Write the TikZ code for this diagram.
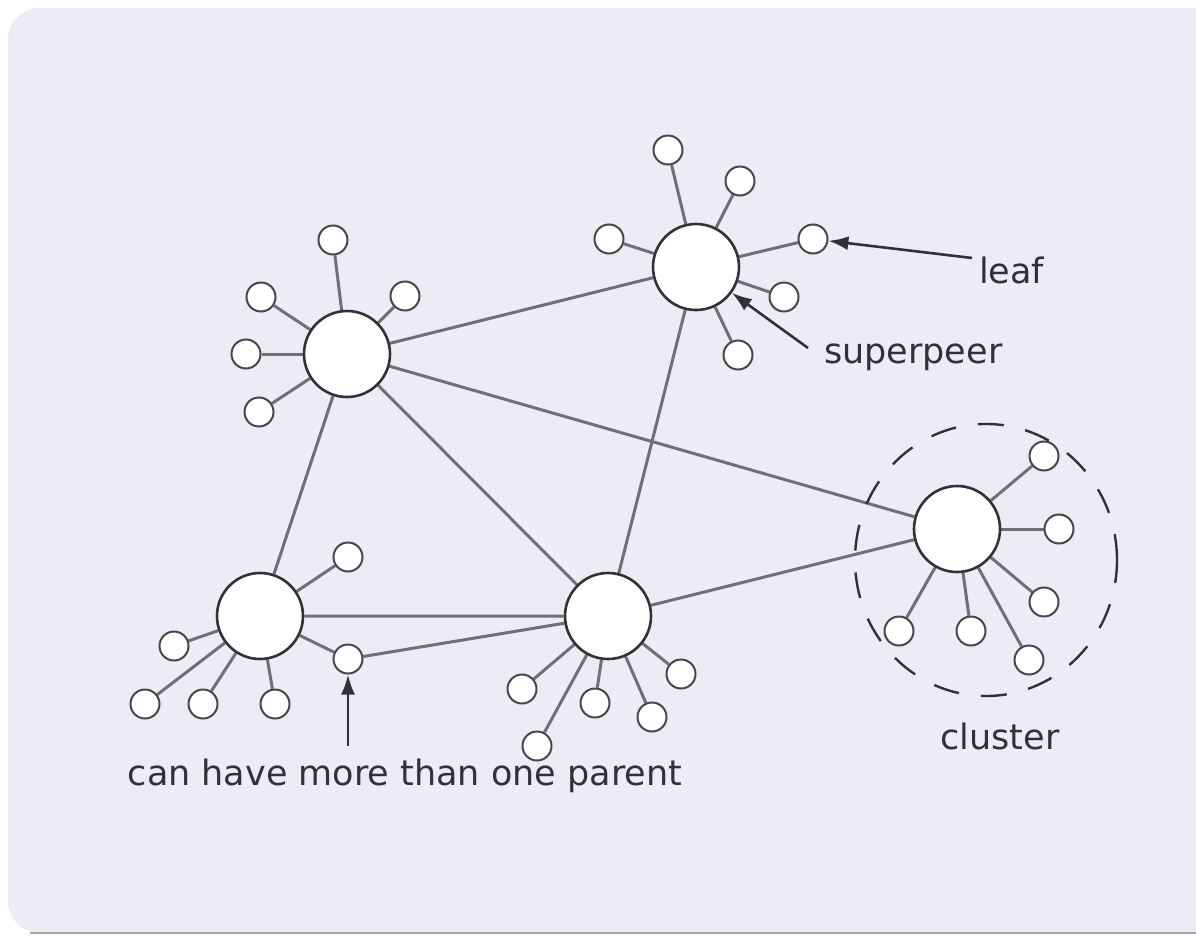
\documentclass[tikz,border=0pt]{standalone}
\usepackage{fontspec}
\setmainfont{DejaVu Sans}
\usetikzlibrary{arrows.meta}
\definecolor{panel}{RGB}{236,236,245}
\definecolor{edgegray}{RGB}{112,112,116}
\definecolor{ink}{RGB}{50,50,54}
\pgfdeclarelayer{panellayer}
\pgfdeclarelayer{edgelayer}
\pgfsetlayers{panellayer,edgelayer,main}
\begin{document}
\begin{tikzpicture}[x=1pt,y=-1pt,
  super/.style={circle,draw=ink,line width=2.6pt,fill=white,minimum size=86pt,inner sep=0pt},
  leaf/.style={circle,draw=ink!90,line width=2pt,fill=white,minimum size=29pt,inner sep=0pt},
  link/.style={draw=edgegray,line width=3pt},
  label/.style={text=ink,font=\fontsize{35}{40}\selectfont,inner sep=0pt},
  pointer/.style={draw=ink,line width=2.6pt,-{Latex[length=20pt,width=14pt]}}]
\useasboundingbox (0,0) rectangle (1196,936);
% background panel
\begin{pgfonlayer}{panellayer}
\fill[white] (0,0) rectangle (1196,936);
\fill[panel,rounded corners=32pt] (8,8) rectangle (1230,933);
\draw[gray!70,line width=2pt] (30,933) -- (1196,933);
\end{pgfonlayer}

% superpeers
\node[super] (A) at (347,354) {};
\node[super] (B) at (696,267) {};
\node[super] (C) at (260,616) {};
\node[super] (D) at (608,616) {};
\node[super] (E) at (957,529) {};

% cluster boundary
\draw[ink,line width=2.4pt,dash pattern=on 26pt off 22pt] (986,560) circle[x radius=131pt,y radius=136pt];

% leaves of A
\node[leaf] (a1) at (333,240) {};
\node[leaf] (a2) at (261,297) {};
\node[leaf] (a3) at (405,296) {};
\node[leaf] (a4) at (246,354) {};
\node[leaf] (a5) at (259,412) {};
% leaves of B
\node[leaf] (b1) at (668,150) {};
\node[leaf] (b2) at (740,181) {};
\node[leaf] (b3) at (609,239) {};
\node[leaf] (b4) at (813,239) {};
\node[leaf] (b5) at (784,297) {};
\node[leaf] (b6) at (738,355) {};
% leaves of C
\node[leaf] (c1) at (348,557) {};
\node[leaf] (c2) at (174,646) {};
\node[leaf] (c3) at (145,704) {};
\node[leaf] (c4) at (203,704) {};
\node[leaf] (c5) at (275,704) {};
\node[leaf] (cd) at (348,659) {};
% leaves of D
\node[leaf] (d1) at (522,689) {};
\node[leaf] (d2) at (537,746) {};
\node[leaf] (d3) at (595,703) {};
\node[leaf] (d4) at (652,717) {};
\node[leaf] (d5) at (681,674) {};
% leaves of E
\node[leaf] (e1) at (1044,456) {};
\node[leaf] (e2) at (1059,529) {};
\node[leaf] (e3) at (1044,602) {};
\node[leaf] (e4) at (1029,660) {};
\node[leaf] (e5) at (971,631) {};
\node[leaf] (e6) at (899,631) {};

% links between superpeers and to leaves
\begin{pgfonlayer}{edgelayer}
\path[link] (A) -- (B) (A) -- (C) (A) -- (D) (A) -- (E)
  (B) -- (D) (C) -- (D) (D) -- (E) (cd) -- (D);
\foreach \l in {a1,a2,a3,a4,a5} \path[link] (A) -- (\l);
\foreach \l in {b1,b2,b3,b4,b5,b6} \path[link] (B) -- (\l);
\foreach \l in {c1,c2,c3,c4,c5,cd} \path[link] (C) -- (\l);
\foreach \l in {d1,d2,d3,d4,d5} \path[link] (D) -- (\l);
\foreach \l in {e1,e2,e3,e4,e5,e6} \path[link] (E) -- (\l);
\end{pgfonlayer}

% labels and pointers
\node[label,anchor=west] (tleaf) at (979,270) {leaf};
\node[label,anchor=west] (tsuper) at (824,357) {superpeer};
\node[label] (tcluster) at (1000,736) {cluster};
\node[label] (tparent) at (405,776) {can have more than one parent};
\coordinate (pleaf) at (972,258);
\coordinate (psuper) at (808,348);
\coordinate (pparent) at (348,746);
\draw[pointer] (pleaf) -- (b4);
\draw[pointer] (psuper) -- (B);
\draw[pointer] (pparent) -- (cd);
\end{tikzpicture}
\end{document}
